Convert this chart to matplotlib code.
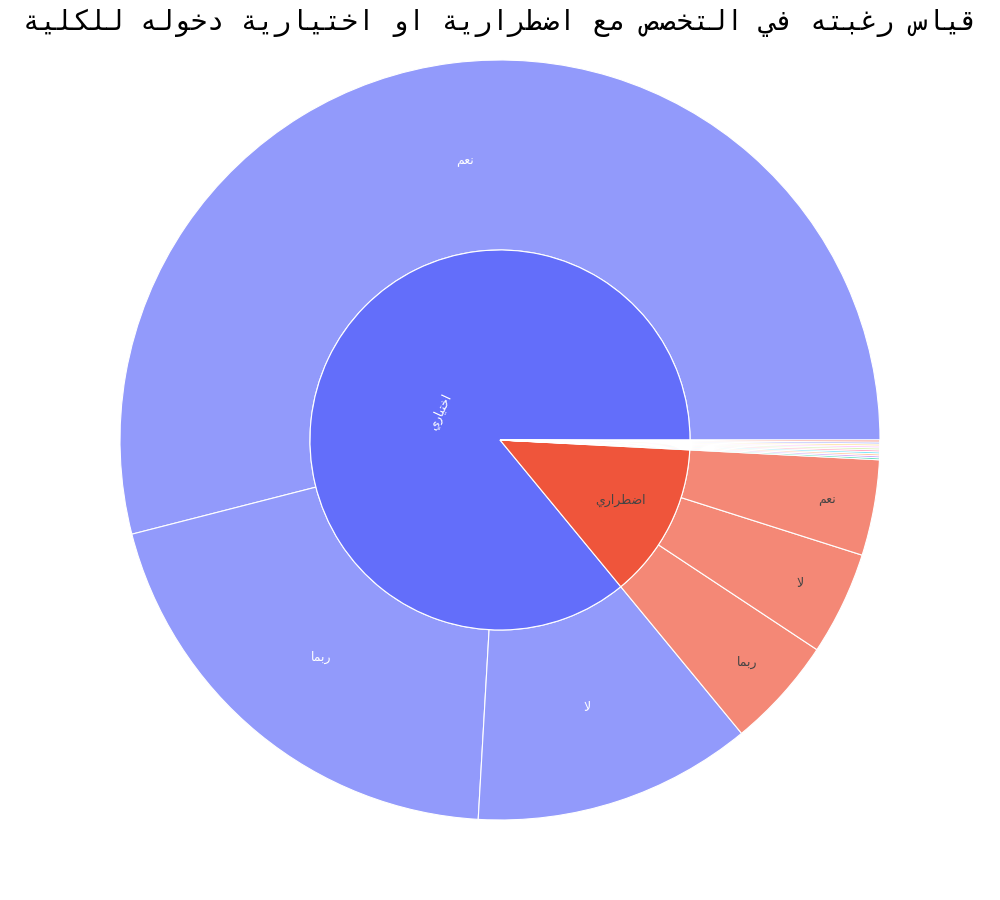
import unicodedata
import numpy as np
import matplotlib
matplotlib.use("Agg")
import matplotlib.pyplot as plt

# عنوان الرسم
title = "قياس رغبته في التخصص مع اضطرارية او اختيارية دخوله للكلية"

# الحلقة الداخلية: نوع الدخول
inner_labels = ["اختياري", "اضطراري"]
# الحلقة الخارجية: الرغبة في التخصص لكل نوع
outer_labels = [["نعم", "ربما", "لا"], ["ربما", "لا", "نعم"]]
outer_values = [[650, 242, 143], [57, 53, 49]]
# فئات صغيرة جدا (قيمة واحدة لكل منها)
n_small = 10
small_values = [1] * n_small

colorway = ['#636efa', '#EF553B', '#00cc96', '#ab63fa', '#FFA15A',
            '#19d3f3', '#FF6692', '#B6E880', '#FF97FF', '#FECB52']


def shape_arabic(text):
    # تشكيل الحروف العربية يدويا (matplotlib لا يدعم ذلك) ثم عكس الترتيب
    def form(ch, kind):
        try:
            return unicodedata.lookup(unicodedata.name(ch) + " " + kind + " FORM")
        except (KeyError, ValueError):
            return None

    def is_ar(ch):
        return ch is not None and form(ch, "ISOLATED") is not None

    def dual(ch):
        return is_ar(ch) and form(ch, "INITIAL") is not None

    out = []
    i = 0
    prev = None
    while i < len(text):
        ch = text[i]
        nxt = text[i + 1] if i + 1 < len(text) else None
        if not is_ar(ch):
            out.append(ch)
            prev = None
            i += 1
            continue
        join_prev = dual(prev)
        if ch == "ل" and nxt == "ا":
            out.append("\ufefc" if join_prev else "\ufefb")
            prev = "ا"
            i += 2
            continue
        join_next = dual(ch) and is_ar(nxt)
        if join_prev and join_next:
            kind = "MEDIAL"
        elif join_prev:
            kind = "FINAL"
        elif join_next:
            kind = "INITIAL"
        else:
            kind = "ISOLATED"
        out.append(form(ch, kind) or ch)
        prev = ch
        i += 1
    return "".join(out)[::-1]


def lighten(c, a=0.7):
    r, g, b = matplotlib.colors.to_rgb(c)
    return (a * r + 1 - a, a * g + 1 - a, a * b + 1 - a)


inner_values = [sum(v) for v in outer_values] + small_values
inner_colors = [colorway[i % len(colorway)] for i in range(len(inner_values))]
outer_vals = outer_values[0] + outer_values[1] + small_values
outer_colors = ([lighten(inner_colors[0])] * 3 + [lighten(inner_colors[1])] * 3
                + [lighten(c) for c in inner_colors[2:]])

fig = plt.figure(figsize=(10, 9), dpi=100)
ax = fig.add_axes([0.12, 80 / 900, 0.76, 760 / 900])

wedge_kw = dict(edgecolor="white", linewidth=0.8)
outer_w, _ = ax.pie(outer_vals, radius=1.0, colors=outer_colors, startangle=0,
                    counterclock=True, wedgeprops=dict(width=0.5, **wedge_kw))
inner_w, _ = ax.pie(inner_values, radius=0.5, colors=inner_colors, startangle=0,
                    counterclock=True, wedgeprops=dict(width=0.5, **wedge_kw))
ax.set_xlim(-1, 1)
ax.set_ylim(-1, 1)
ax.set_aspect("equal")
ax.axis("off")


def put_label(w, txt, r, color, rot=0):
    mid = np.deg2rad((w.theta1 + w.theta2) / 2)
    ax.text(r * np.cos(mid), r * np.sin(mid), shape_arabic(txt), ha="center",
            va="center", color=color, fontsize=9, rotation=rot,
            family=["DejaVu Sans"])


text_colors = ["white", "#444444"]
outer_r = [0.74, 0.875]
inner_r = [0.174, 0.355]
inner_rot = [65, 0]
for g in range(2):
    put_label(inner_w[g], inner_labels[g], inner_r[g], text_colors[g], inner_rot[g])
    for k, lab in enumerate(outer_labels[g]):
        put_label(outer_w[g * 3 + k], lab, outer_r[g], text_colors[g])

fig.text(0.5, 1 - 23 / 900, shape_arabic(title), ha="center", va="center",
         fontsize=20, family=["DejaVu Sans Mono", "DejaVu Sans"])

fig.savefig("out.png")
